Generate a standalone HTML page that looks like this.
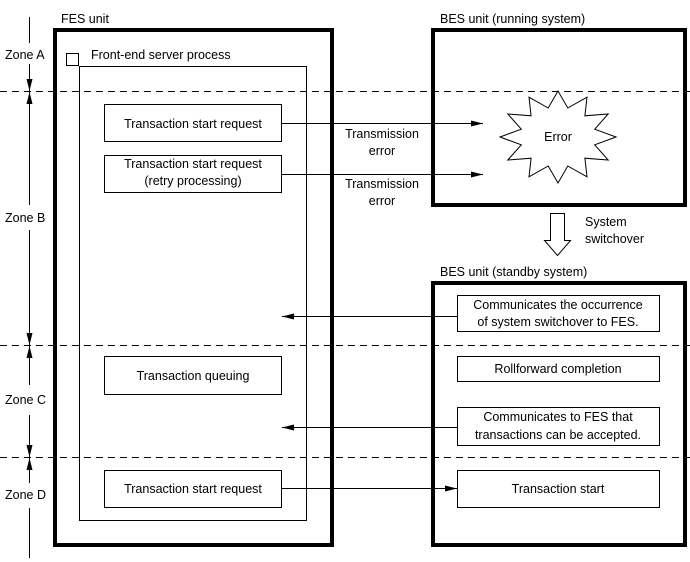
<!DOCTYPE html>
<html><head><style>body{margin:0;background:#fff}svg{display:block}text{font-family:"Liberation Sans",sans-serif;font-size:12.5px;fill:#000}</style></head><body>
<svg width="690" height="562" viewBox="0 0 690 562" xmlns="http://www.w3.org/2000/svg">
<defs><marker id="a" markerWidth="12" markerHeight="8" refX="12" refY="4" orient="auto" markerUnits="userSpaceOnUse"><path d="M0,1 L12,4 L0,7 Z" fill="#000"/></marker></defs>
<g fill="none" stroke="#000">
<rect x="55" y="30" width="277" height="515" stroke-width="4"/>
<rect x="433" y="30" width="252" height="175" stroke-width="4"/>
<rect x="433" y="283" width="252" height="262" stroke-width="4"/>
<rect x="66.5" y="53.5" width="12" height="12"/>
<rect x="79.5" y="66.5" width="227" height="454"/>
<g stroke-dasharray="7,5"><line x1="0" y1="91.5" x2="690" y2="91.5"/><line x1="0" y1="345.5" x2="690" y2="345.5"/><line x1="0" y1="457.5" x2="690" y2="457.5"/></g>
<rect x="104.5" y="104.5" width="177" height="37"/>
<rect x="104.5" y="155.5" width="177" height="37"/>
<rect x="104.5" y="356.5" width="177" height="38"/>
<rect x="104.5" y="470.5" width="177" height="37"/>
<rect x="457.5" y="295.5" width="202" height="36"/>
<rect x="457.5" y="356.5" width="202" height="25"/>
<rect x="457.5" y="407.5" width="202" height="38"/>
<rect x="457.5" y="470.5" width="202" height="37"/>
<line x1="282" y1="123.5" x2="483" y2="123.5" marker-end="url(#a)"/>
<line x1="282" y1="174.5" x2="483" y2="174.5" marker-end="url(#a)"/>
<line x1="457" y1="316.5" x2="282" y2="316.5" marker-end="url(#a)"/>
<line x1="457" y1="427.5" x2="282" y2="427.5" marker-end="url(#a)"/>
<line x1="282" y1="488.5" x2="457" y2="488.5" marker-end="url(#a)"/>
<polygon points="616,137 594.7,144.8 608.2,160 584.9,158.2 587,176.8 567.8,166 558,183 548.2,166 529,176.8 531.1,158.2 507.8,160 521.3,144.8 500,137 521.3,129.2 507.8,114 531.1,115.8 529,97.2 548.2,108 558,91 567.8,108 587,97.2 584.9,115.8 608.2,114 594.7,129.2"/>
<polygon points="550.5,213.5 564.5,213.5 564.5,240.5 570.5,240.5 557.5,255.5 544.5,240.5 550.5,240.5"/>
<line x1="29.5" y1="17" x2="29.5" y2="43"/>
<line x1="29.5" y1="64" x2="29.5" y2="91" marker-end="url(#a)"/>
<line x1="29.5" y1="205" x2="29.5" y2="92" marker-end="url(#a)"/>
<line x1="29.5" y1="230" x2="29.5" y2="345" marker-end="url(#a)"/>
<line x1="29.5" y1="385" x2="29.5" y2="346" marker-end="url(#a)"/>
<line x1="29.5" y1="415" x2="29.5" y2="457" marker-end="url(#a)"/>
<line x1="29.5" y1="483" x2="29.5" y2="458" marker-end="url(#a)"/>
<line x1="29.5" y1="508" x2="29.5" y2="558"/>
</g>
<text x="61" y="23">FES unit</text>
<text x="440" y="23">BES unit (running system)</text>
<text x="440" y="276">BES unit (standby system)</text>
<text x="91" y="59">Front-end server process</text>
<text x="5" y="59">Zone A</text>
<text x="5" y="222">Zone B</text>
<text x="5" y="404">Zone C</text>
<text x="5" y="499">Zone D</text>
<g text-anchor="middle">
<text x="193" y="128">Transaction start request</text>
<text x="193" y="168">Transaction start request</text>
<text x="193" y="185">(retry processing)</text>
<text x="193" y="380">Transaction queuing</text>
<text x="193" y="493">Transaction start request</text>
<text x="382" y="138">Transmission</text>
<text x="382" y="155">error</text>
<text x="382" y="188">Transmission</text>
<text x="382" y="205">error</text>
<text x="558" y="141">Error</text>
<text x="558" y="309">Communicates the occurrence</text>
<text x="558" y="326">of system switchover to FES.</text>
<text x="558" y="373">Rollforward completion</text>
<text x="558" y="421">Communicates to FES that</text>
<text x="558" y="439">transactions can be accepted.</text>
<text x="558" y="493">Transaction start</text>
</g>
<text x="585" y="226">System</text>
<text x="585" y="243">switchover</text>
</svg>
</body></html>
